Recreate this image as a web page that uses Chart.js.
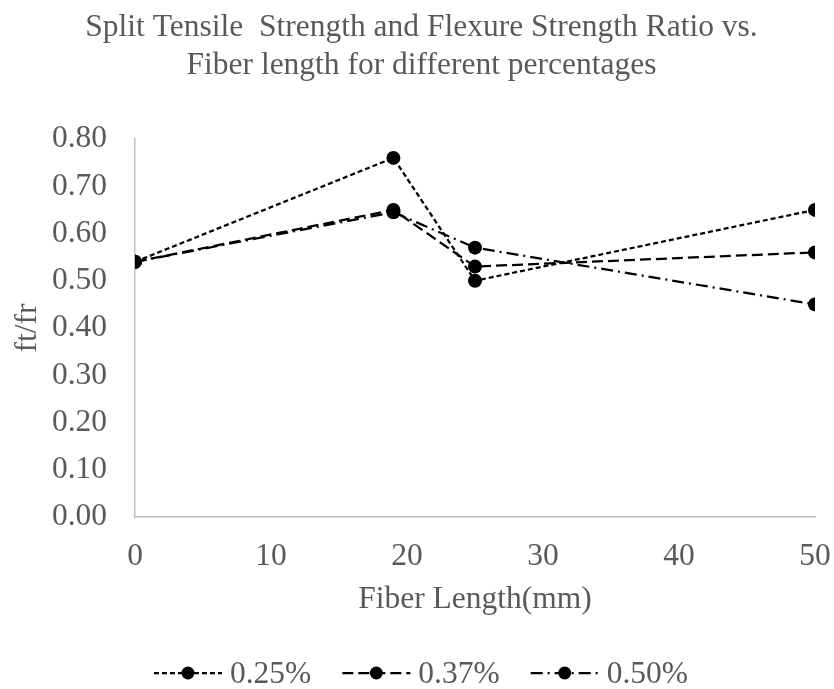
<!DOCTYPE html>
<html>
<head>
<meta charset="utf-8">
<title>ft/fr vs Fiber Length</title>
<script src="https://cdn.jsdelivr.net/npm/chart.js@4/dist/chart.umd.min.js"></script>
<style>
  html, body { margin: 0; padding: 0; background: #fff; }
  canvas { display: block; }
</style>
</head>
<body>
<canvas id="ratioChart" width="834" height="689"></canvas>
<script>
// Fiber lengths (mm) and the ft/fr ratio measured for each fiber percentage
const fiberLengths = [0, 19, 25, 50];
const ratio025 = [0.54, 0.76, 0.50, 0.65];
const ratio037 = [0.54, 0.65, 0.53, 0.56];
const ratio050 = [0.54, 0.645, 0.57, 0.45];
const seriesLabels = ["0.25%", "0.37%", "0.50%"];
const xTicks = [0, 10, 20, 30, 40, 50];
const yTicks = [0, 0.1, 0.2, 0.3, 0.4, 0.5, 0.6, 0.7, 0.8];

const FONT = "'Liberation Serif', 'Times New Roman', serif";
const TEXT = "#595959";
const AXIS = "#bfbfbf";

const toPoints = (ys) => fiberLengths.map((x, i) => ({ x: x, y: ys[i] }));

const makeSeries = (label, ys, dash) => ({
  label: label,
  data: toPoints(ys),
  showLine: true,
  borderColor: "#000",
  backgroundColor: "#000",
  borderWidth: 2.25,
  borderDash: dash,
  tension: 0,
  pointRadius: 7,
  pointHoverRadius: 7,
  pointBorderWidth: 0,
  pointBackgroundColor: "#000",
});

// legend drawn under the x axis: dashed sample with a dot, then the label
const lineLegend = {
  id: "lineLegend",
  afterDraw(chart) {
    const ctx = chart.ctx;
    const sets = chart.data.datasets;
    const sample = 68, gap = 8, spacing = 31, baseY = 683;
    ctx.save();
    ctx.font = "31.5px " + FONT;
    const widths = sets.map((d) => ctx.measureText(d.label).width);
    const total = widths.reduce((a, w) => a + sample + gap + w, 0) + spacing * (sets.length - 1);
    let x = chart.width / 2 - total / 2 + 4;
    const midY = baseY - 10;
    sets.forEach((d, i) => {
      ctx.strokeStyle = d.borderColor;
      ctx.lineWidth = d.borderWidth;
      ctx.setLineDash(d.borderDash);
      ctx.beginPath();
      ctx.moveTo(x, midY);
      ctx.lineTo(x + sample, midY);
      ctx.stroke();
      ctx.setLineDash([]);
      ctx.fillStyle = d.pointBackgroundColor;
      ctx.beginPath();
      ctx.arc(x + sample / 2, midY, 6.5, 0, Math.PI * 2);
      ctx.fill();
      ctx.fillStyle = TEXT;
      ctx.textBaseline = "alphabetic";
      ctx.textAlign = "left";
      ctx.fillText(d.label, x + sample + gap, baseY);
      x += sample + gap + widths[i] + spacing;
    });
    ctx.restore();
  },
};

new Chart(document.getElementById("ratioChart"), {
  type: "scatter",
  data: {
    datasets: [
      makeSeries(seriesLabels[0], ratio025, [5, 3]),
      makeSeries(seriesLabels[1], ratio037, [11, 5]),
      makeSeries(seriesLabels[2], ratio050, [12, 5, 2, 5]),
    ],
  },
  options: {
    responsive: false,
    animation: false,
    devicePixelRatio: 1,
    layout: { padding: { left: 12, right: 3, top: 0, bottom: 70 } },
    plugins: {
      legend: { display: false },
      tooltip: { enabled: false },
      title: {
        display: true,
        text: [
          "Split Tensile  Strength and Flexure Strength Ratio vs.",
          "Fiber length for different percentages",
        ],
        color: TEXT,
        font: { family: FONT, size: 31.5, weight: "normal", lineHeight: 1.2 },
        padding: { top: 8.6, bottom: 54.8 },
      },
    },
    scales: {
      x: {
        type: "linear",
        min: 0,
        max: 50,
        afterBuildTicks: (scale) => { scale.ticks = xTicks.map((v) => ({ value: v })); },
        afterFit: (scale) => {
          // keep the plot edge fixed; the last label only needs half its width
          scale.height = 102;
          scale.paddingLeft = 0;
          scale.paddingRight = 19;
        },
        grid: { display: false, drawTicks: false },
        border: { display: true, color: AXIS, width: 1.5 },
        ticks: { color: TEXT, padding: 21, font: { family: FONT, size: 31.5 } },
        title: {
          display: true,
          text: "Fiber Length(mm)",
          color: TEXT,
          font: { family: FONT, size: 31.5, lineHeight: 1.2 },
          padding: { top: 0, bottom: 0 },
        },
      },
      y: {
        type: "linear",
        min: 0,
        max: 0.8,
        afterBuildTicks: (scale) => { scale.ticks = yTicks.map((v) => ({ value: v })); },
        afterFit: (scale) => { scale.width = 123; },
        grid: { display: false, drawTicks: false },
        border: { display: true, color: AXIS, width: 1.5 },
        ticks: {
          color: TEXT,
          padding: 28,
          font: { family: FONT, size: 31.5 },
          callback: (v) => Number(v).toFixed(2),
        },
        title: {
          display: true,
          text: "ft/fr",
          color: TEXT,
          font: { family: FONT, size: 31.5, lineHeight: 1.0 },
          padding: { top: 0, bottom: 0 },
        },
      },
    },
  },
  plugins: [lineLegend],
});
</script>
</body>
</html>
